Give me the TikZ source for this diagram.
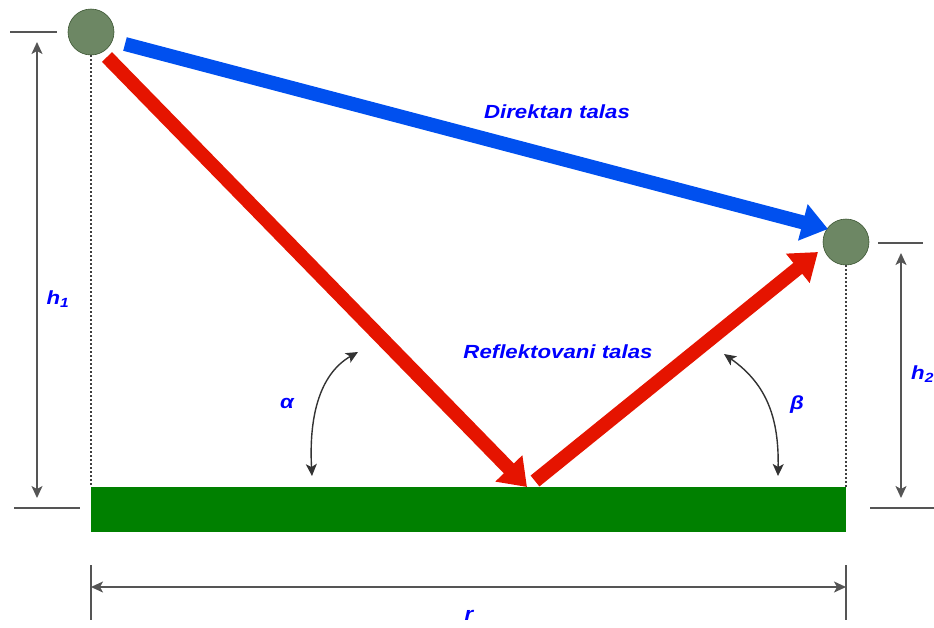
\documentclass[tikz,border=0pt]{standalone}
\usepackage{fontspec}
\setmainfont{Liberation Sans}
\usetikzlibrary{arrows.meta}
\definecolor{ballfill}{HTML}{6D8764}
\definecolor{ballline}{HTML}{3A5431}
\definecolor{ground}{HTML}{008000}
\definecolor{wavered}{HTML}{E51400}
\definecolor{waveblue}{HTML}{0050EF}
\definecolor{dimgray}{HTML}{555555}
\definecolor{lbl}{HTML}{0000FF}
\newcommand{\wide}[1]{\scalebox{1.17}[1]{#1}}
\tikzset{
  ball/.style={circle, fill=ballfill, draw=ballline, line width=0.6pt, minimum size=46pt, inner sep=0pt},
  wave/.style={line width=14pt, -{Triangle[length=26pt,width=36pt]}},
  dimline/.style={draw=dimgray, line width=1.5pt},
  dimarrow/.style={dimline, {Stealth[length=12pt,width=11pt,inset=3pt]}-{Stealth[length=12pt,width=11pt,inset=3pt]}},
  anglearrow/.style={draw=black!80, line width=1.4pt, {Stealth[length=12pt,width=11pt,inset=3pt]}-{Stealth[length=12pt,width=11pt,inset=3pt]}},
  guide/.style={draw=black!75, line width=1.4pt, dash pattern=on 2pt off 2pt},
  lab/.style={text=lbl, font=\fontsize{19}{21}\selectfont\bfseries\itshape, inner sep=0pt}
}
\begin{document}
\begin{tikzpicture}[x=1pt,y=-1pt]
\useasboundingbox (0,0) rectangle (934,627);
% ground
\node[fill=ground, minimum width=755pt, minimum height=45pt, inner sep=0pt, anchor=north west] (gnd) at (91,486.5) {};
% balls
\node[ball] (tx) at (91,32) {};
\node[ball] (rx) at (846,242) {};
% guides
\coordinate (g1) at (91,486.5);
\coordinate (g2) at (846,486.5);
\draw[guide] (tx.south) -- (g1);
\draw[guide] (rx.south) -- (g2);
% waves
\coordinate (bt) at (125,44);
\coordinate (bh) at (828,229);
\coordinate (r1t) at (107,57);
\coordinate (r1h) at (527,487);
\coordinate (r2t) at (535,481);
\coordinate (r2h) at (818,252);
\draw[wave, draw=waveblue] (bt) -- (bh);
\draw[wave, draw=wavered] (r1t) -- (r1h);
\draw[wave, draw=wavered] (r2t) -- (r2h);
% left dimension h1
\coordinate (lt1) at (10,32); \coordinate (lt2) at (57,32);
\coordinate (lb1) at (14,508); \coordinate (lb2) at (80,508);
\coordinate (la1) at (37,32); \coordinate (la2) at (37,508);
\draw[dimline] (lt1) -- (lt2);
\draw[dimline] (lb1) -- (lb2);
\draw[dimarrow, shorten <=10pt, shorten >=10pt] (la1) -- (la2);
% right dimension h2
\coordinate (rt1) at (878,243); \coordinate (rt2) at (923,243);
\coordinate (rb1) at (870,508); \coordinate (rb2) at (934,508);
\coordinate (ra1) at (901,243); \coordinate (ra2) at (901,508);
\draw[dimline] (rt1) -- (rt2);
\draw[dimline] (rb1) -- (rb2);
\draw[dimarrow, shorten <=10pt, shorten >=10pt] (ra1) -- (ra2);
% r dimension
\coordinate (d1a) at (91,565); \coordinate (d1b) at (91,620);
\coordinate (d2a) at (846,565); \coordinate (d2b) at (846,620);
\coordinate (da1) at (91,587); \coordinate (da2) at (846,587);
\draw[dimline] (d1a) -- (d1b);
\draw[dimline] (d2a) -- (d2b);
\draw[dimarrow] (da1) -- (da2);
% angle arcs
\coordinate (a1) at (312,476); \coordinate (a2) at (358,352);
\coordinate (b1) at (724,354); \coordinate (b2) at (778,476);
\draw[anglearrow] (a1) .. controls (309,420) and (318,375) .. (a2);
\draw[anglearrow] (b1) .. controls (768,385) and (779,420) .. (b2);
% labels
\node[lab] (ldir) at (557,112) {\wide{Direktan talas}};
\node[lab] (lref) at (558,352) {\wide{Reflektovani talas}};
\node[lab] (lh1) at (58,299) {\wide{h\textsubscript{1}}};
\node[lab, anchor=west] (lh2) at (911,374) {\wide{h\textsubscript{2}}};
\node[lab] (lal) at (287,403) {\wide{α}};
\node[lab] (lbe) at (797,405) {\wide{β}};
\node[lab] (lr) at (469,615) {\wide{r}};
\end{tikzpicture}
\end{document}
